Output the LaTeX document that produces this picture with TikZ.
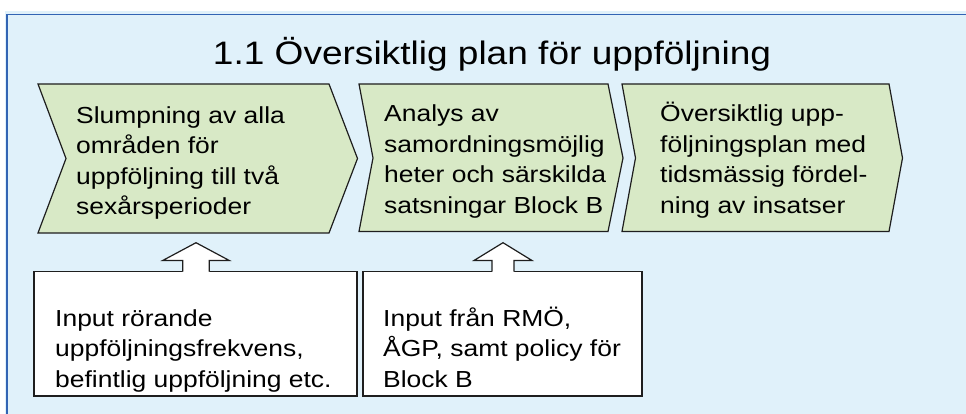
\documentclass[tikz,border=0pt]{standalone}
\usepackage{fontspec}
\setmainfont[FakeStretch=1.14]{Liberation Sans}
\definecolor{panelfill}{RGB}{224,241,250}
\definecolor{panelline}{RGB}{50,100,180}
\definecolor{stepfill}{RGB}{216,233,198}
\definecolor{edge}{RGB}{30,30,30}
\tikzset{
  chevron/.style={fill=stepfill, draw=edge, line width=1.2pt, line join=miter},
  inbox/.style={fill=white, draw=edge, line width=1.2pt},
  % multi-line nodes: the base anchor sits on the last line's baseline
  steptext/.style={anchor=base west, align=left, inner sep=0pt,
    font=\fontsize{23.2}{30.4}\selectfont},
  titletext/.style={anchor=base, inner sep=0pt,
    font=\fontsize{32.5}{39}\selectfont},
}
% block arrow pointing up: #1 tip, #2 half head width, #3 half shaft width
\newcommand{\uparrowshape}[3]{%
  \fill[white] ($(#1)+(-#3,0)$) |- ($(#1)+(-#2,17.8)$) -- (#1) -- ($(#1)+(#2,17.8)$) -| ($(#1)+(#3,30)$) -- ($(#1)+(-#3,30)$) -- cycle;
  \draw[draw=edge, line width=1.2pt, line join=miter]
    ($(#1)+(-#3,29)$) |- ($(#1)+(-#2,17.8)$) -- (#1) -- ($(#1)+(#2,17.8)$) -| ($(#1)+(#3,29)$);
}
\usetikzlibrary{calc}
\begin{document}
\begin{tikzpicture}[x=1pt, y=-1pt]
\useasboundingbox (0,0) rectangle (966,414);
% background panel
\fill[panelfill] (5,11) rectangle (966,414);
\draw[panelline, line width=1.6pt] (7,414) -- (7,14.5) -- (966,14.5);

\node[titletext] (title) at (492,65) {1.1 Översiktlig plan för uppföljning};

% process steps
\draw[chevron] (38,84) -- (329,84) -- (357.5,158.5) -- (329,233) -- (38,233) -- (66,158.5) -- cycle;
\draw[chevron] (359,84) -- (608,84) -- (623,158) -- (608,231.5) -- (359,231.5) -- (373,158) -- cycle;
\draw[chevron] (622,84) -- (889,84) -- (902.5,158) -- (889,231.5) -- (622,231.5) -- (635.5,158) -- cycle;

\node[steptext] (s1) at (76,214.7) {Slumpning av alla\\områden för\\uppföljning till två\\sexårsperioder};
\node[steptext] (s2) at (384,213.2) {Analys av\\samordningsmöjlig\\heter och särskilda\\satsningar Block B};
\node[steptext] (s3) at (660,213.2) {Översiktlig upp-\\följningsplan med\\tidsmässig fördel-\\ning av insatser};

% input boxes
\draw[inbox] (34,271.7) rectangle (357,396);
\draw[inbox] (363,271.7) rectangle (642,396);

\coordinate (a1) at (196,242.7);
\coordinate (a2) at (503,242.7);
\uparrowshape{a1}{33.3}{13.3}
\uparrowshape{a2}{29}{11}

\node[steptext] (i1) at (55,387) {Input rörande\\uppföljningsfrekvens,\\befintlig uppföljning etc.};
\node[steptext] (i2) at (383,387) {Input från RMÖ,\\ÅGP, samt policy för\\Block B};
\end{tikzpicture}
\end{document}
